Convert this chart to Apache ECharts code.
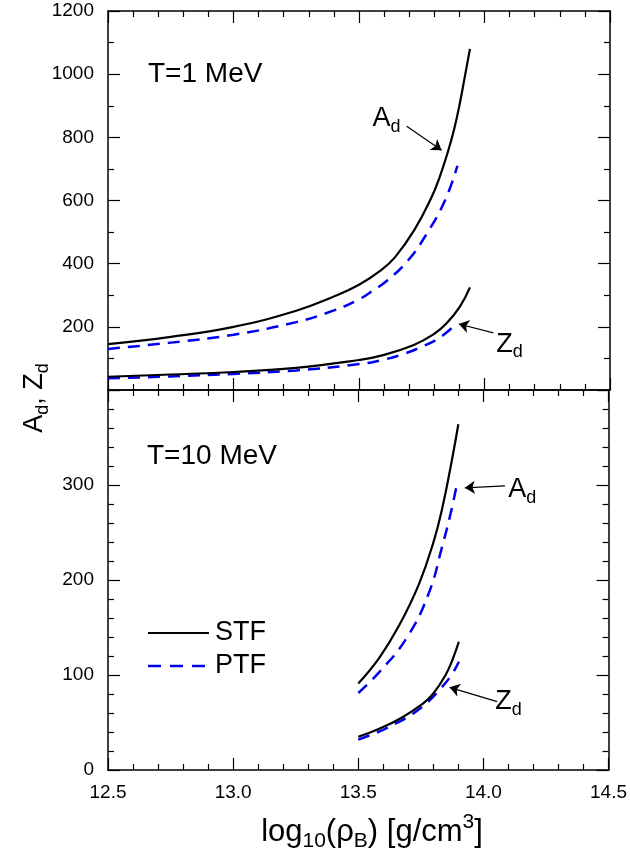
<!DOCTYPE html>
<html>
<head>
<meta charset="utf-8">
<script src="https://cdn.jsdelivr.net/npm/echarts@6/dist/echarts.min.js"></script>
<style>html,body{margin:0;padding:0;background:#fff}#c{width:630px;height:857px}</style>
</head>
<body>
<div id="c"></div>
<script>
// ---------- data ----------
const xTicks = [12.5, 13.0, 13.5, 14.0, 14.5];
// T = 1 MeV
const t1_A_STF_x = [12.5, 12.75, 13.0, 13.25, 13.4, 13.5, 13.584, 13.643, 13.72, 13.789, 13.82, 13.856, 13.88, 13.9, 13.92, 13.942];
const t1_A_STF_y = [145, 168, 200, 251, 296, 333, 377, 420, 506, 610, 671, 759, 829, 901, 985, 1080];
const t1_A_PTF_x = [12.5, 12.75, 13.0, 13.25, 13.4, 13.5, 13.55, 13.61, 13.696, 13.77, 13.843, 13.892];
const t1_A_PTF_y = [130, 150, 175, 215, 252, 287, 312, 345, 411, 495, 601, 710];
const t1_Z_STF_x = [12.5, 12.75, 13.0, 13.25, 13.5, 13.584, 13.716, 13.8, 13.849, 13.902, 13.942];
const t1_Z_STF_y = [42, 49, 57, 70, 95, 108, 142, 178, 211, 264, 325];
const t1_Z_PTF_x = [12.5, 12.75, 13.0, 13.25, 13.5, 13.584, 13.67, 13.756, 13.82, 13.875];
const t1_Z_PTF_y = [37, 43, 51, 62, 82, 93.5, 112, 139, 165, 200];
// T = 10 MeV
const t10_A_STF_x = [13.5, 13.584, 13.663, 13.743, 13.803, 13.836, 13.869, 13.9];
const t10_A_STF_y = [91, 118, 152, 196, 242, 276, 319, 364];
const t10_A_PTF_x = [13.5, 13.584, 13.696, 13.783, 13.836, 13.869, 13.892];
const t10_A_PTF_y = [81, 103, 140, 187, 236, 270, 298];
const t10_Z_STF_x = [13.5, 13.584, 13.67, 13.757, 13.8, 13.849, 13.875, 13.902];
const t10_Z_STF_y = [35, 43.5, 54.5, 69.5, 80.5, 100, 115, 135];
const t10_Z_PTF_x = [13.5, 13.584, 13.65, 13.717, 13.78, 13.823, 13.87, 13.902];
const t10_Z_PTF_y = [32, 40.5, 49, 59, 72, 84, 99, 114];

// annotations (data coords): [panel, tailX, tailY, headX, headY, labelX, labelY, main, sub]
const arrows = [
  [0, 13.69, 835, 13.829, 759, 13.61, 858, 'A', 'd'],
  [0, 14.035, 181, 13.898, 209, 14.10, 145, 'Z', 'd'],
  [1, 14.086, 299, 13.926, 297, 14.155, 295, 'A', 'd'],
  [1, 14.055, 72, 13.865, 87, 14.10, 72, 'Z', 'd']
];
const panelTitles = ['T=1 MeV', 'T=10 MeV'];
const legendNames = ['STF', 'PTF'];

// ---------- chart ----------
const FONT = 'Liberation Sans, Arial, sans-serif';
const BLUE = '#0000ee';
const zip = (xs, ys) => xs.map((x, i) => [x, ys[i]]);
const chart = echarts.init(document.getElementById('c'), null, {renderer: 'canvas'});

const axisLine = {show: true, onZero: false, lineStyle: {color: '#000', width: 1.5}};
function xAx(grid, pos, labels) {
  return {
    type: 'value', gridIndex: grid, position: pos, min: 12.5, max: 14.5, interval: 0.5,
    axisLine, splitLine: {show: false},
    axisTick: {show: true, inside: true, length: 12, lineStyle: {color: '#000', width: 1.2}},
    minorTick: {show: true, splitNumber: 5, length: 6, lineStyle: {color: '#000', width: 1.2}},
    axisLabel: {show: labels, margin: 13, color: '#000', fontSize: 19, fontFamily: FONT,
      formatter: v => v.toFixed(1)}
  };
}
function yAx(grid, pos, max, interval, minor, labels, hideMin, hideMax) {
  return {
    type: 'value', gridIndex: grid, position: pos, min: 0, max: max, interval: interval,
    axisLine, splitLine: {show: false},
    axisTick: {show: true, inside: true, length: 12, lineStyle: {color: '#000', width: 1.2}},
    minorTick: {show: true, splitNumber: minor, length: 6, lineStyle: {color: '#000', width: 1.2}},
    axisLabel: {show: labels, margin: 14, color: '#000', fontSize: 19, fontFamily: FONT,
      showMinLabel: !hideMin, showMaxLabel: !hideMax, formatter: v => String(v)}
  };
}

function ser(name, xs, ys, panel, dashed) {
  return {
    type: 'line', name: name, xAxisIndex: panel * 2, yAxisIndex: panel * 2,
    data: zip(xs, ys), showSymbol: false, symbol: 'none', smooth: 0.45,
    lineStyle: dashed ? {color: BLUE, width: 2.5, type: [12, 8]} : {color: '#000', width: 2.2},
    itemStyle: {color: dashed ? BLUE : '#000'},
    z: dashed ? 3 : 4, silent: true
  };
}

const series = [
  ser('STF', t1_A_STF_x, t1_A_STF_y, 0, false),
  ser('PTF', t1_A_PTF_x, t1_A_PTF_y, 0, true),
  ser('STF', t1_Z_STF_x, t1_Z_STF_y, 0, false),
  ser('PTF', t1_Z_PTF_x, t1_Z_PTF_y, 0, true),
  ser('STF', t10_A_STF_x, t10_A_STF_y, 1, false),
  ser('PTF', t10_A_PTF_x, t10_A_PTF_y, 1, true),
  ser('STF', t10_Z_STF_x, t10_Z_STF_y, 1, false),
  ser('PTF', t10_Z_PTF_x, t10_Z_PTF_y, 1, true)
];
[0, 1].forEach(p => {
  series.push({
    type: 'line', name: 'arrows' + p, xAxisIndex: p * 2, yAxisIndex: p * 2, data: [], silent: true,
    markLine: {
      silent: true, symbol: ['none', 'arrow'], symbolSize: 10, animation: false,
      lineStyle: {color: '#000', width: 1.2, type: 'solid'}, itemStyle: {color: '#000'},
      label: {show: false}, emphasis: {disabled: true},
      data: arrows.filter(a => a[0] === p).map(a => [{coord: [a[1], a[2]]}, {coord: [a[3], a[4]]}])
    }
  });
});

chart.setOption({
  animation: false,
  grid: [
    {left: 108, right: 20, top: 11, height: 379},
    {left: 108, right: 20, top: 390, height: 380}
  ],
  xAxis: [xAx(0, 'bottom', false), xAx(0, 'top', false), xAx(1, 'bottom', true), xAx(1, 'top', false)],
  yAxis: [
    yAx(0, 'left', 1200, 200, 2, true, true, false),
    yAx(0, 'right', 1200, 200, 2, false, false, false),
    yAx(1, 'left', 400, 100, 5, true, false, true),
    yAx(1, 'right', 400, 100, 5, false, false, false)
  ],
  series: series
});

// text annotations placed via the axes' conversion
const BIG = 27, SMALL = 18;
const rich = {
  m: {fontSize: BIG, fontFamily: FONT, color: '#000'},
  s: {fontSize: SMALL, fontFamily: FONT, color: '#000', padding: [16, 0, 0, 0]},
  u: {fontSize: SMALL, fontFamily: FONT, color: '#000', padding: [0, 0, 16, 0]}
};
const richT = {
  m: {fontSize: 31, fontFamily: FONT, color: '#000'},
  s: {fontSize: 21, fontFamily: FONT, color: '#000', padding: [19, 0, 0, 0]},
  u: {fontSize: 21, fontFamily: FONT, color: '#000', padding: [0, 0, 19, 0]}
};
const graphics = [];
arrows.forEach(a => {
  const pt = chart.convertToPixel({xAxisIndex: a[0] * 2, yAxisIndex: a[0] * 2}, [a[5], a[6]]);
  graphics.push({type: 'text', x: pt[0], y: pt[1], silent: true,
    style: {text: '{m|' + a[7] + '}{s|' + a[8] + '}', rich: rich, textAlign: 'center', textVerticalAlign: 'middle'}});
});
graphics.push({type: 'text', x: 148, y: 74, silent: true,
  style: {text: panelTitles[0], font: '28px ' + FONT, fill: '#000', textAlign: 'left', textVerticalAlign: 'middle'}});
graphics.push({type: 'text', x: 147, y: 456, silent: true,
  style: {text: panelTitles[1], font: '28px ' + FONT, fill: '#000', textAlign: 'left', textVerticalAlign: 'middle'}});
// legend
[[633, false], [666, true]].forEach((l, i) => {
  graphics.push({type: 'line', silent: true, shape: {x1: 148, y1: l[0], x2: 209, y2: l[0]},
    style: l[1] ? {stroke: BLUE, lineWidth: 2.5, lineDash: [13, 9]} : {stroke: '#000', lineWidth: 2.2}});
  graphics.push({type: 'text', x: 215, y: l[0], silent: true,
    style: {text: legendNames[i], font: BIG + 'px ' + FONT, fill: '#000', textAlign: 'left', textVerticalAlign: 'middle'}});
});
// y-axis title
graphics.push({type: 'text', x: 35, y: 398, rotation: Math.PI / 2, silent: true,
  style: {text: '{m|A}{s|d}{m|, Z}{s|d}', rich: rich, textAlign: 'center', textVerticalAlign: 'middle'}});
// x-axis title
graphics.push({type: 'text', x: 372, y: 832, silent: true,
  style: {text: '{m|log}{s|10}{m|(ρ}{s|B}{m|) [g/cm}{u|3}{m|]}', rich: richT, textAlign: 'center', textVerticalAlign: 'middle'}});
chart.setOption({graphic: graphics});
</script>
</body>
</html>
